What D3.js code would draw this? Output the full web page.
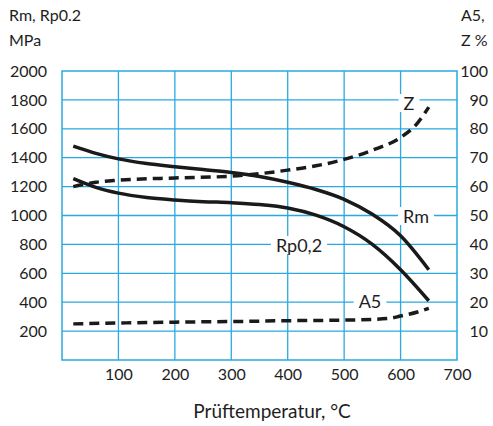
<!DOCTYPE html>
<html>
<head>
<meta charset="utf-8">
<script src="https://cdn.jsdelivr.net/npm/d3@7"></script>
<style>
  body { margin: 0; background: #fff; }
  svg text { font-family: Lato, "Open Sans", sans-serif; fill: #1e1e1e; }
</style>
</head>
<body>
<div id="main"></div>
<script>
// curve data: [temperature °C, value]
const rmData = [[20, 1480], [60, 1430], [100, 1392], [150, 1360], [200, 1338], [250, 1318], [300, 1298], [350, 1270], [400, 1230], [450, 1180], [500, 1112], [550, 1008], [600, 860], [650, 625]]
const rpData = [[20, 1255], [60, 1195], [100, 1155], [150, 1125], [200, 1108], [250, 1096], [300, 1089], [350, 1076], [400, 1052], [450, 1002], [500, 922], [550, 800], [600, 625], [650, 410]]
const zData = [[20, 60], [60, 61.5], [100, 62.2], [200, 63], [300, 63.6], [400, 65.7], [450, 67.2], [500, 69.4], [550, 72.6], [600, 77], [630, 82], [650, 87.5]]
const a5Data = [[20, 12.5], [100, 12.8], [200, 13.1], [300, 13.3], [400, 13.6], [500, 13.8], [580, 14.4], [600, 15.2], [630, 16.6], [650, 17.9]]

const xTicks = [100, 200, 300, 400, 500, 600, 700]
const leftTicks = [200, 400, 600, 800, 1000, 1200, 1400, 1600, 1800, 2000]
const rightTicks = [10, 20, 30, 40, 50, 60, 70, 80, 90, 100]

const w = 493, h = 426
const plotL = 62, plotR = 457, plotT = 71, plotB = 360
const gridColor = '#29a9e1'

const svg = d3.select('#main').append('svg')
    .attr('width', w)
    .attr('height', h)

const xScale = d3.scaleLinear().domain([0, 700]).range([plotL, plotR])
const yLeft = d3.scaleLinear().domain([0, 2000]).range([plotB, plotT])
const yRight = d3.scaleLinear().domain([0, 100]).range([plotB, plotT])

// grid //
const grid = svg.append('g')
grid.selectAll('.vgrid')
    .data(xTicks.slice(0, -1))
    .enter().append('line')
    .attr('x1', d => xScale(d)).attr('x2', d => xScale(d))
    .attr('y1', plotT).attr('y2', plotB)
    .attr('stroke', gridColor).attr('stroke-width', 1.3)
grid.selectAll('.hgrid')
    .data(leftTicks.slice(0, -1))
    .enter().append('line')
    .attr('x1', plotL).attr('x2', plotR)
    .attr('y1', d => yLeft(d)).attr('y2', d => yLeft(d))
    .attr('stroke', gridColor).attr('stroke-width', 1.3)
grid.append('rect')
    .attr('x', plotL).attr('y', plotT)
    .attr('width', plotR - plotL).attr('height', plotB - plotT)
    .attr('fill', 'none')
    .attr('stroke', gridColor).attr('stroke-width', 1.5)

// axes (labels only, no domain/ticks) //
const styleTicks = sel => sel.selectAll('text')
    .style('font-size', '16px')
    .style('font-family', 'Lato, sans-serif')
    .attr('fill', '#1e1e1e')

const xAxis = d3.axisBottom(xScale).tickValues(xTicks).tickFormat(d3.format('d')).tickSize(0).tickPadding(9)
svg.append('g')
    .attr('transform', 'translate(0,' + plotB + ')')
    .call(xAxis)
    .call(g => g.select('.domain').remove())
    .call(styleTicks)

const leftAxis = d3.axisLeft(yLeft).tickValues(leftTicks).tickFormat(d3.format('d')).tickSize(0).tickPadding(15)
svg.append('g')
    .attr('transform', 'translate(' + plotL + ',0)')
    .call(leftAxis)
    .call(g => g.select('.domain').remove())
    .call(styleTicks)

const rightAxis = d3.axisRight(yRight).tickValues(rightTicks).tickFormat(d3.format('d')).tickSize(0).tickPadding(0)
svg.append('g')
    .attr('transform', 'translate(488,0)')
    .call(rightAxis)
    .call(g => g.select('.domain').remove())
    .call(styleTicks)
    .selectAll('text').attr('text-anchor', 'end')

// titles //
svg.append('text').attr('x', 9).attr('y', 21).style('font-size', '16px').text('Rm, Rp0.2')
svg.append('text').attr('x', 9).attr('y', 46).style('font-size', '16px').text('MPa')
svg.append('text').attr('x', 461).attr('y', 21).style('font-size', '16px').text('A5,')
svg.append('text').attr('x', 461).attr('y', 46).style('font-size', '16px').text('Z %')
svg.append('text').attr('x', 272).attr('y', 418).attr('text-anchor', 'middle').style('font-size', '19px').text('Prüftemperatur, °C')

// curve labels with white backing //
const labels = [
    {t: 'Z', x: 409, y: 103},
    {t: 'Rm', x: 416, y: 216},
    {t: 'Rp0,2', x: 299, y: 245},
    {t: 'A5', x: 370, y: 301}
]
labels.forEach(l => {
    const g = svg.append('g')
    const txt = g.append('text')
        .attr('x', l.x).attr('y', l.y)
        .attr('text-anchor', 'middle')
        .attr('dominant-baseline', 'central')
        .style('font-size', '18px')
        .text(l.t)
    const bb = txt.node().getBBox()
    g.insert('rect', 'text')
        .attr('x', bb.x - 5).attr('y', bb.y + 2)
        .attr('width', bb.width + 10).attr('height', bb.height - 4)
        .attr('fill', '#fff')
})

// curves //
const lineLeft = d3.line().curve(d3.curveMonotoneX).x(d => xScale(d[0])).y(d => yLeft(d[1]))
const lineRight = d3.line().curve(d3.curveMonotoneX).x(d => xScale(d[0])).y(d => yRight(d[1]))

svg.append('path').datum(rmData).attr('d', lineLeft)
    .attr('fill', 'none').attr('stroke', '#1a1a1a').attr('stroke-width', 3.5)
svg.append('path').datum(rpData).attr('d', lineLeft)
    .attr('fill', 'none').attr('stroke', '#1a1a1a').attr('stroke-width', 3.5)
svg.append('path').datum(zData).attr('d', lineRight)
    .attr('fill', 'none').attr('stroke', '#1a1a1a').attr('stroke-width', 3.5).attr('stroke-dasharray', '10,6')
svg.append('path').datum(a5Data).attr('d', lineRight)
    .attr('fill', 'none').attr('stroke', '#1a1a1a').attr('stroke-width', 3.5).attr('stroke-dasharray', '10,6')
</script>
</body>
</html>
